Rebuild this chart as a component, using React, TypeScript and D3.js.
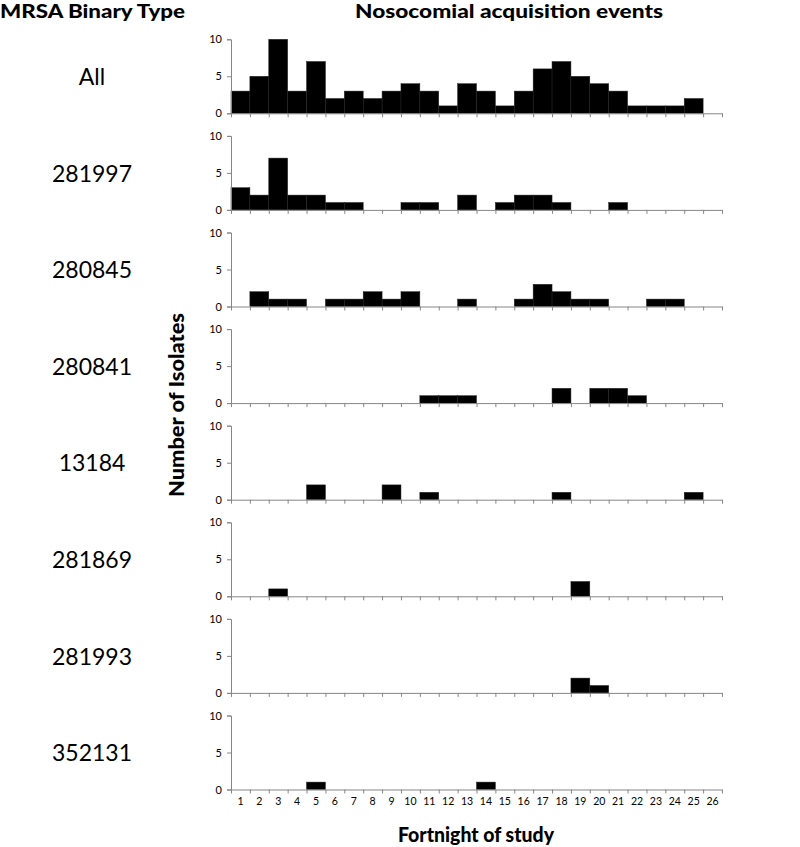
import React, { useEffect, useRef } from "react";
import * as d3 from "d3";

const fortnights = d3.range(1, 27);
const typeLabels = ["All", "281997", "280845", "280841", "13184", "281869", "281993", "352131"];
const countsAll = [3, 5, 10, 3, 7, 2, 3, 2, 3, 4, 3, 1, 4, 3, 1, 3, 6, 7, 5, 4, 3, 1, 1, 1, 2, 0];
const counts281997 = [3, 2, 7, 2, 2, 1, 1, 0, 0, 1, 1, 0, 2, 0, 1, 2, 2, 1, 0, 0, 1, 0, 0, 0, 0, 0];
const counts280845 = [0, 2, 1, 1, 0, 1, 1, 2, 1, 2, 0, 0, 1, 0, 0, 1, 3, 2, 1, 1, 0, 0, 1, 1, 0, 0];
const counts280841 = [0, 0, 0, 0, 0, 0, 0, 0, 0, 0, 1, 1, 1, 0, 0, 0, 0, 2, 0, 2, 2, 1, 0, 0, 0, 0];
const counts13184 = [0, 0, 0, 0, 2, 0, 0, 0, 2, 0, 1, 0, 0, 0, 0, 0, 0, 1, 0, 0, 0, 0, 0, 0, 1, 0];
const counts281869 = [0, 0, 1, 0, 0, 0, 0, 0, 0, 0, 0, 0, 0, 0, 0, 0, 0, 0, 2, 0, 0, 0, 0, 0, 0, 0];
const counts281993 = [0, 0, 0, 0, 0, 0, 0, 0, 0, 0, 0, 0, 0, 0, 0, 0, 0, 0, 2, 1, 0, 0, 0, 0, 0, 0];
const counts352131 = [0, 0, 0, 0, 1, 0, 0, 0, 0, 0, 0, 0, 0, 1, 0, 0, 0, 0, 0, 0, 0, 0, 0, 0, 0, 0];
const yTicks = [0, 5, 10];

const seriesList = [countsAll, counts281997, counts280845, counts280841, counts13184, counts281869, counts281993, counts352131];

const W = 800;
const H = 847;
const X0 = 231;
const X1 = 722;
const PANEL_TOP = 39.3;
const PANEL_STEP = 96.6;
const PANEL_H = 74;
const AXIS_COLOR = "#868686";
const FONT = "Lato, 'Open Sans', sans-serif";

export default function App() {
  const ref = useRef<SVGSVGElement | null>(null);

  useEffect(() => {
    const svg = d3.select(ref.current);
    svg.selectAll("*").remove();

    const x = d3.scaleBand<number>().domain(fortnights).range([X0, X1]).padding(0);
    const xEdge = d3.scaleLinear().domain([0, 26]).range([X0, X1]);

    // titles
    svg.append("text").attr("x", 0).attr("y", 18).attr("font-family", FONT).attr("font-weight", 900)
      .attr("font-size", 18).attr("fill", "#000").attr("textLength", 185).attr("lengthAdjust", "spacingAndGlyphs")
      .text("MRSA Binary Type");
    svg.append("text").attr("x", 509).attr("y", 18).attr("text-anchor", "middle").attr("font-family", FONT)
      .attr("font-weight", 900).attr("font-size", 19).attr("fill", "#000").attr("textLength", 308)
      .attr("lengthAdjust", "spacingAndGlyphs").text("Nosocomial acquisition events");
    svg.append("text").attr("transform", "translate(184,405) rotate(-90)").attr("text-anchor", "middle")
      .attr("font-family", FONT).attr("font-weight", 900).attr("font-size", 21).attr("fill", "#000")
      .attr("textLength", 184).attr("lengthAdjust", "spacingAndGlyphs").text("Number of Isolates");
    svg.append("text").attr("x", 476).attr("y", 842).attr("text-anchor", "middle").attr("font-family", FONT)
      .attr("font-weight", 900).attr("font-size", 21).attr("fill", "#000").attr("textLength", 156)
      .attr("lengthAdjust", "spacingAndGlyphs").text("Fortnight of study");

    seriesList.forEach((vals, i) => {
      const top = PANEL_TOP + i * PANEL_STEP;
      const y = d3.scaleLinear().domain([0, 10]).range([top + PANEL_H, top]);
      const g = svg.append("g");

      // type label
      g.append("text").attr("x", 92).attr("y", 85 + i * PANEL_STEP).attr("text-anchor", "middle")
        .attr("font-family", FONT).attr("font-size", 23).attr("fill", "#000").text(typeLabels[i]);

      // bars
      g.selectAll("rect.bar").data(vals.map((v, k) => ({ f: fortnights[k], v }))
        .filter((d) => d.v > 0)).enter().append("rect")
        .attr("x", (d) => x(d.f)!).attr("width", x.bandwidth())
        .attr("y", (d) => y(d.v)).attr("height", (d) => y(0) - y(d.v))
        .attr("fill", "#000").attr("stroke", "#222").attr("stroke-width", 0.5);

      // y axis
      const ya = g.append("g").attr("transform", `translate(${X0},0)`)
        .call(d3.axisLeft(y).tickValues(yTicks).tickSize(4).tickPadding(5).tickFormat(d3.format("d")));
      ya.select(".domain").attr("stroke", AXIS_COLOR);
      ya.selectAll(".tick line").attr("stroke", AXIS_COLOR);
      ya.selectAll(".tick text").attr("font-family", FONT).attr("font-size", 11).attr("fill", "#000");

      // x axis
      const xa = g.append("g").attr("transform", `translate(0,${y(0)})`)
        .call(d3.axisBottom(xEdge).tickValues(d3.range(27)).tickSize(4).tickSizeOuter(0).tickFormat(() => ""));
      xa.select(".domain").attr("stroke", AXIS_COLOR);
      xa.selectAll(".tick line").attr("stroke", AXIS_COLOR);

      if (i === seriesList.length - 1) {
        g.selectAll("text.xl").data(fortnights).enter().append("text")
          .attr("x", (d) => x(d)! + x.bandwidth() / 2).attr("y", y(0) + 15).attr("text-anchor", "middle")
          .attr("font-family", FONT).attr("font-size", 10.5).attr("fill", "#000").text((d) => String(d));
      }
    });
  }, []);

  return (
    <svg ref={ref} width={W} height={H} style={{ position: "absolute", left: 0, top: 0, background: "#fff" }} />
  );
}
